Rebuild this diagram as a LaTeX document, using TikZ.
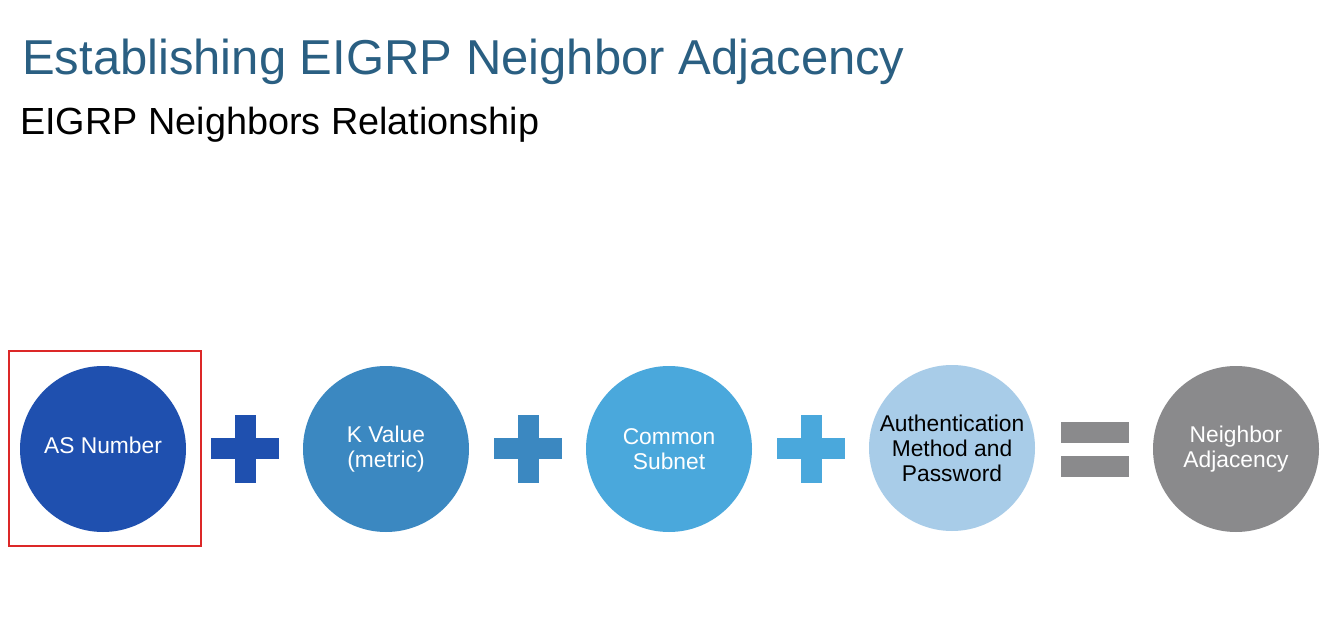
\documentclass[tikz,border=0pt]{standalone}
\usepackage{fontspec}
\setmainfont{Liberation Sans}
\definecolor{titleblue}{RGB}{42,95,130}
\definecolor{cA}{RGB}{31,80,175}
\definecolor{cB}{RGB}{59,136,193}
\definecolor{cC}{RGB}{74,168,220}
\definecolor{cD}{RGB}{168,204,232}
\definecolor{cE}{RGB}{138,138,140}
\definecolor{frame}{RGB}{220,40,40}
\tikzset{
  bubble/.style={circle, minimum size=166pt, inner sep=0pt, align=center,
    font=\fontsize{22.8}{25}\selectfont, text=white},
  bar/.style={inner sep=0pt, minimum width=68pt, minimum height=21pt},
  vbar/.style={inner sep=0pt, minimum width=21pt, minimum height=68pt},
}
\begin{document}
\begin{tikzpicture}[x=1pt,y=-1pt]
\useasboundingbox[fill=white] (0,0) rectangle (1334,631);
\node[anchor=base west, inner sep=0pt, text=titleblue, font=\fontsize{49}{55}\selectfont] (title) at (22,75) {Establishing EIGRP Neighbor Adjacency};
\node[anchor=base west, inner sep=0pt, text=black, font=\fontsize{37.8}{42}\selectfont] (sub) at (20,134.5) {EIGRP Neighbors Relationship};
% circles
\node[bubble, fill=cA] (as) at (103,449) {};
\node[text=white, font=\fontsize{22.8}{25}\selectfont, inner sep=0pt] (astext) at (103,445) {AS Number};
\node[bubble, fill=cB] (kv) at (386,449) {K Value\\(metric)};
\node[bubble, fill=cC] (cs) at (669,449) {Common\\Subnet};
\node[bubble, fill=cD, text=black] (au) at (952,448) {Authentication\\Method and\\Password};
\node[bubble, fill=cE] (na) at (1236,449) {Neighbor\\Adjacency};
% highlight frame
\node[draw=frame, line width=2pt, minimum width=192pt, minimum height=195pt, inner sep=0pt] (hl) at (105,448.5) {};
% plus signs
\node[bar, fill=cA] (p1h) at (245,448.5) {};
\node[vbar, fill=cA] (p1v) at (245,449) {};
\node[bar, fill=cB] (p2h) at (528,448.5) {};
\node[vbar, fill=cB] (p2v) at (528,449) {};
\node[bar, fill=cC] (p3h) at (811,448.5) {};
\node[vbar, fill=cC] (p3v) at (811,449) {};
% equals
\node[bar, fill=cE] (e1) at (1095,432.5) {};
\node[bar, fill=cE] (e2) at (1095,466) {};
\end{tikzpicture}
\end{document}
